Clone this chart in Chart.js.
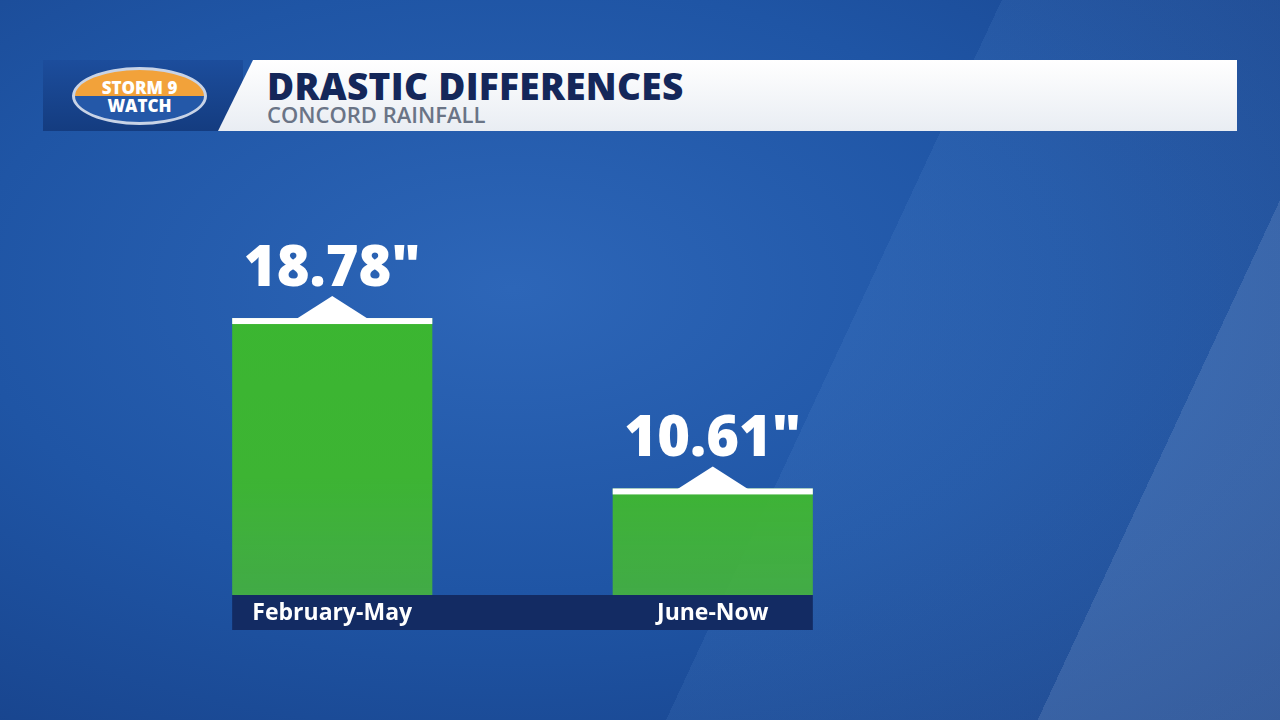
<!DOCTYPE html>
<html>
<head>
<meta charset="utf-8">
<script src="https://cdn.jsdelivr.net/npm/chart.js@4"></script>
<style>
  body { margin:0; width:1280px; height:720px; overflow:hidden; font-family:"Open Sans",sans-serif;
    background: radial-gradient(ellipse at 40% 40%, #2d66b8 0%, #1f55a5 50%, #163f86 100%); position:relative; }
  #stripe { position:absolute; left:0; top:0; width:1280px; height:720px;
    background: linear-gradient(115deg, rgba(255,255,255,0) 62%, rgba(120,170,230,0.10) 62%, rgba(120,170,230,0.10) 85%, rgba(170,200,240,0.22) 85%); }
  #logoBox { position:absolute; left:43px; top:60px; width:200px; height:71px; background:linear-gradient(#1c4d9c,#143c80); }
  #logo { position:absolute; left:72px; top:67px; width:135px; height:58px; border-radius:50%;
    background:linear-gradient(#f2a23a 50%, #2458a8 50%); border:3px solid #c8d3e6; box-sizing:border-box;
    color:#fff; font-weight:800; font-size:17px; line-height:18px; text-align:center; padding-top:9px; }
  #panel { position:absolute; left:218px; top:60px; width:1019px; height:71px; background:linear-gradient(#fff,#e9edf3);
    clip-path: polygon(35px 0, 100% 0, 100% 100%, 0 100%); }
  #title { position:absolute; left:267px; top:60px; font-size:37px; font-weight:800; color:#14275a; letter-spacing:0.3px; }
  #sub { position:absolute; left:267px; top:99px; font-size:22px; font-weight:600; color:#6a7486; }
  #wrap { position:absolute; left:142px; top:200px; width:761px; height:440px; }
</style>
</head>
<body>
<div id="stripe"></div>
<div id="logoBox"></div>
<div id="logo">STORM 9<br>WATCH</div>
<div id="panel"></div>
<div id="title">DRASTIC DIFFERENCES</div>
<div id="sub">CONCORD RAINFALL</div>
<div id="wrap"><canvas id="myChart"></canvas></div>
<script>
// DATA
const categories = ['February-May', 'June-Now'];
const rainfall = [18.78, 10.61];
const valueLabels = ['18.78"', '10.61"'];

// PLUGIN: caps, value labels, category band
const decorations = {
  id: 'decorations',
  afterDatasetsDraw(chart) {
    const ctx = chart.ctx;
    const meta = chart.getDatasetMeta(0);
    const bottom = chart.chartArea.bottom;
    ctx.save();
    // navy label band
    const first = meta.data[0], last = meta.data[meta.data.length - 1];
    ctx.fillStyle = '#132b63';
    ctx.fillRect(first.x - first.width / 2, bottom, (last.x + last.width / 2) - (first.x - first.width / 2), 35);
    meta.data.forEach((bar, i) => {
      const l = bar.x - bar.width / 2;
      ctx.fillStyle = '#ffffff';
      ctx.fillRect(l, bar.y, bar.width, 6);
      ctx.beginPath();
      ctx.moveTo(bar.x - 36, bar.y + 1);
      ctx.lineTo(bar.x, bar.y - 22);
      ctx.lineTo(bar.x + 36, bar.y + 1);
      ctx.fill();
      ctx.textAlign = 'center';
      ctx.font = '800 56px "Open Sans"';
      ctx.fillText(valueLabels[i], bar.x, bar.y - 32);
      ctx.font = '700 23px "Open Sans"';
      ctx.textBaseline = 'middle';
      ctx.fillText(categories[i], bar.x, bottom + 18);
      ctx.textBaseline = 'alphabetic';
    });
    ctx.restore();
  }
};

const ctx = document.getElementById('myChart').getContext('2d');
const grad = ctx.createLinearGradient(0, 100, 0, 395);
grad.addColorStop(0, '#3bb631');
grad.addColorStop(0.6, '#3db433');
grad.addColorStop(1, 'rgba(70,180,60,0.9)');

new Chart(ctx, {
  type: 'bar',
  data: {
    labels: categories,
    datasets: [{ data: rainfall, backgroundColor: grad, borderWidth: 0, barPercentage: 1, categoryPercentage: 0.526 }]
  },
  options: {
    responsive: true, maintainAspectRatio: false, animation: false,
    layout: { padding: { bottom: 45 } },
    plugins: { legend: { display: false }, tooltip: { enabled: false } },
    scales: {
      x: { display: false },
      y: { display: false, min: 5.5, max: 24.44 }
    }
  },
  plugins: [decorations]
});
</script>
</body>
</html>
